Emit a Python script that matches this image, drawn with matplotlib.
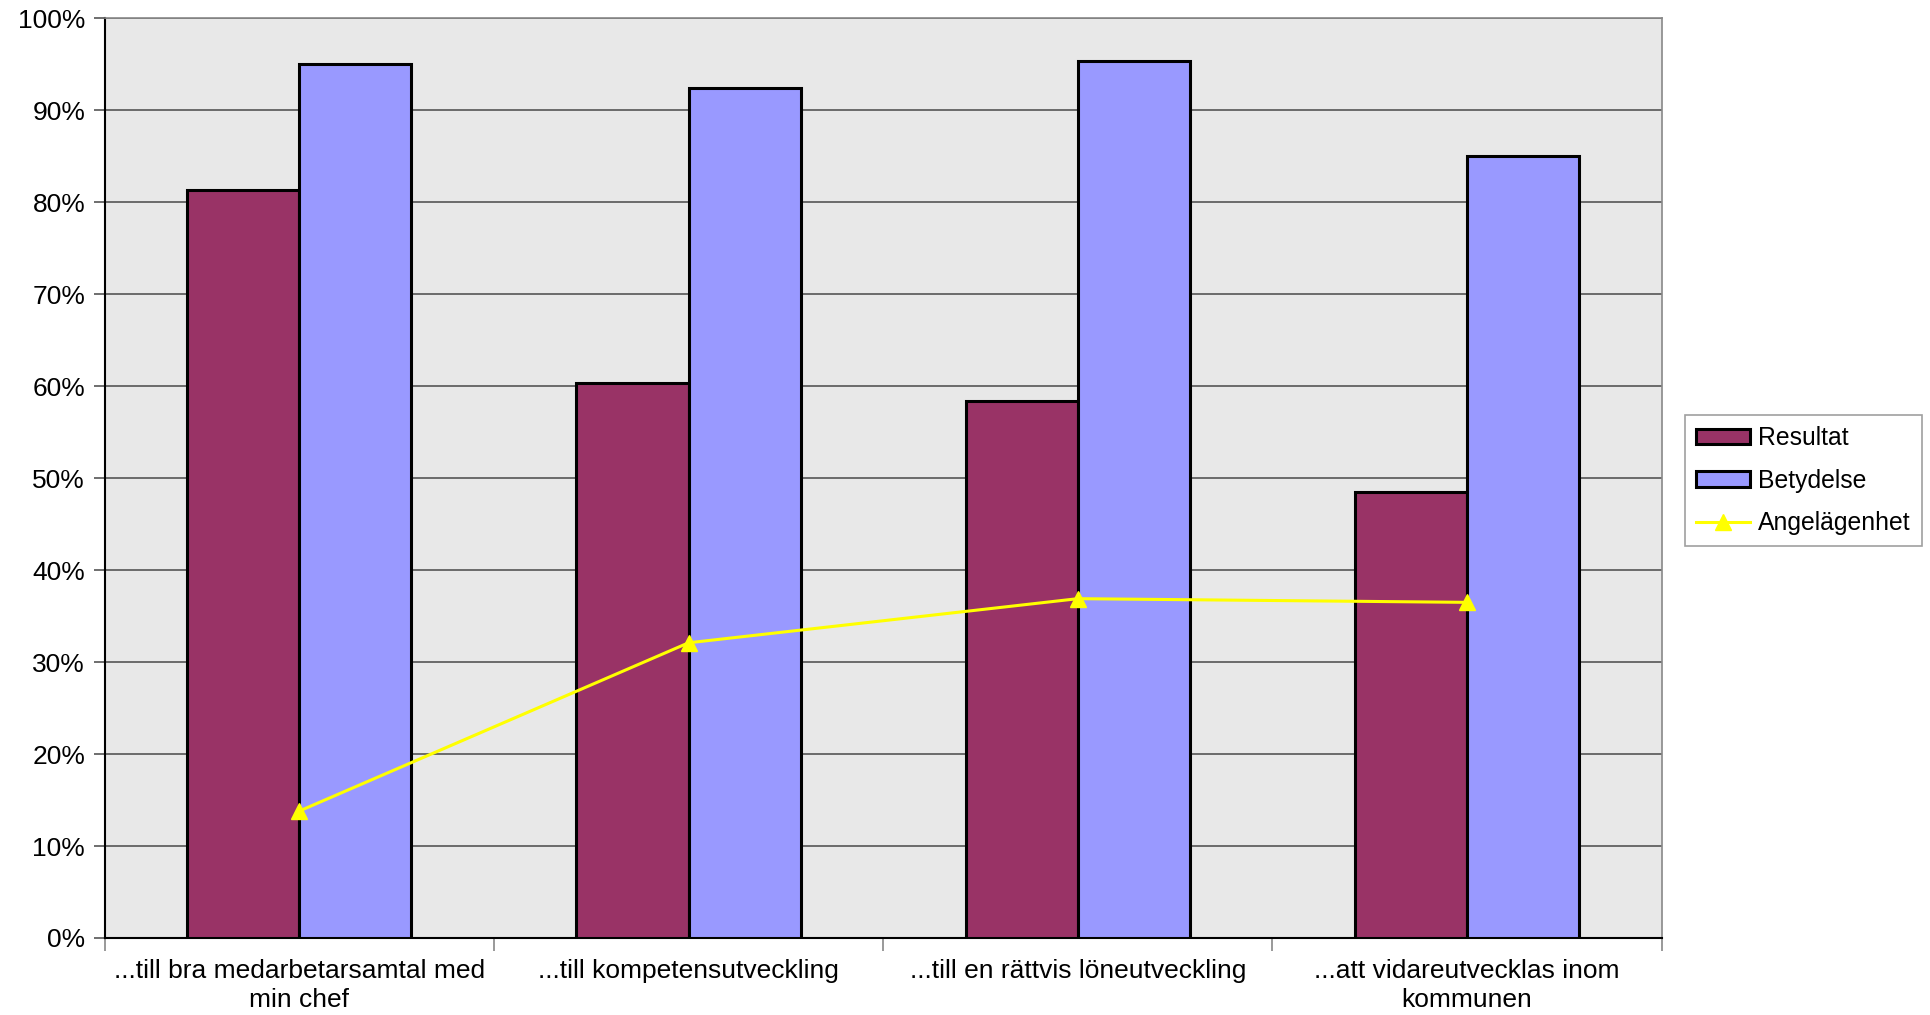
import numpy as np
import matplotlib
matplotlib.use("Agg")
import matplotlib.pyplot as plt
from matplotlib.ticker import FixedLocator, PercentFormatter

categories = ["...till bra medarbetarsamtal med\nmin chef",
              "...till kompetensutveckling",
              "...till en rättvis löneutveckling",
              "...att vidareutvecklas inom\nkommunen"]
resultat = [81.3, 60.4, 58.4, 48.5]
betydelse = [95.1, 92.4, 95.4, 85.0]
angelagenhet = [13.8, 32.1, 36.9, 36.5]

plt.rcParams['font.family'] = ['Liberation Sans', 'DejaVu Sans']

fig = plt.figure(figsize=(19.30, 10.15), dpi=100)
ax = fig.add_axes([0.0542, 0.0759, 0.8068, 0.9059])
ax.set_facecolor("#e8e8e8")

x = np.arange(len(categories))
w = 0.288
ax.bar(x - w / 2, resultat, w, color="#993366", edgecolor="black", lw=2.2,
       label="Resultat", zorder=3)
ax.bar(x + w / 2, betydelse, w, color="#9999ff", edgecolor="black", lw=2.2,
       label="Betydelse", zorder=3)
ax.plot(x, angelagenhet, color="#ffff00", lw=2.2, marker="^", ms=11,
        label="Angelägenhet", zorder=4)

ax.set_xlim(-0.5, len(categories) - 0.5)
ax.set_ylim(0, 100)
ax.set_yticks(np.arange(0, 101, 10))
ax.yaxis.set_major_formatter(PercentFormatter(decimals=0))
ax.grid(axis="y", color="#555555", lw=1.2, zorder=1)
ax.set_axisbelow(True)

# category labels centred, tick marks at category boundaries
ax.set_xticks(x)
ax.set_xticklabels(categories, fontsize=19, linespacing=1.3)
ax.tick_params(axis="x", length=0, pad=15)
ax.xaxis.set_minor_locator(FixedLocator(np.arange(-0.5, len(categories), 1.0)))
ax.tick_params(axis="x", which="minor", length=9, color="#888888", width=1.2)
ax.tick_params(axis="y", labelsize=19, length=8, color="#555555", width=1.2, pad=6)

for s in ["top", "right"]:
    ax.spines[s].set_color("#888888")
    ax.spines[s].set_linewidth(1.2)
for s in ["left", "bottom"]:
    ax.spines[s].set_color("black")
    ax.spines[s].set_linewidth(1.5)

handles, labels = ax.get_legend_handles_labels()
order = [labels.index(n) for n in ["Resultat", "Betydelse", "Angelägenhet"]]
leg = fig.legend([handles[i] for i in order], [labels[i] for i in order],
                 loc="upper left", bbox_to_anchor=(0.873, 0.591), fontsize=17.8,
                 frameon=True, fancybox=False, edgecolor="#888888",
                 handlelength=2.2, handleheight=0.6, borderpad=0.45,
                 labelspacing=0.75, handletextpad=0.3, borderaxespad=0)
leg.get_frame().set_linewidth(1.2)

fig.savefig("out.png", dpi=100)
